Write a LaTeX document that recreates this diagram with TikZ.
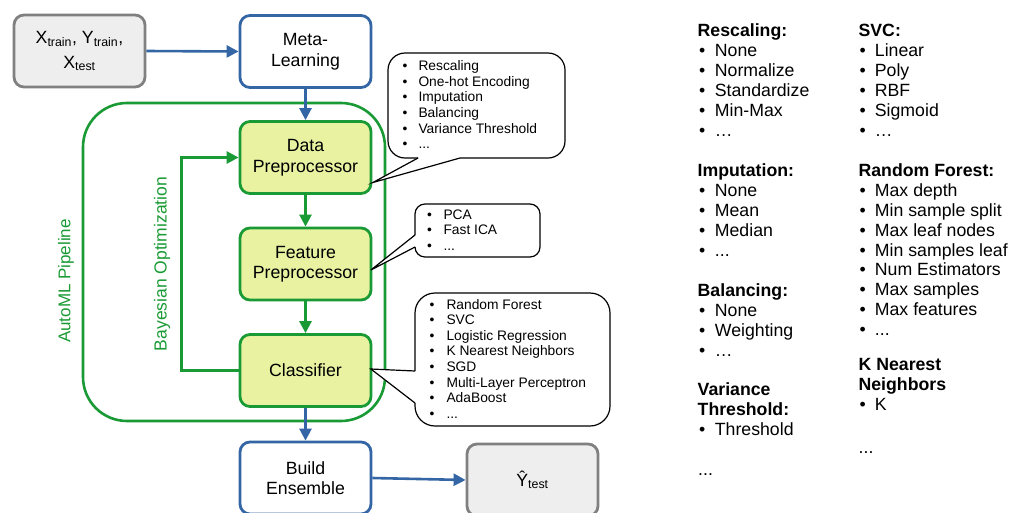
\documentclass[tikz,border=0pt]{standalone}
\usepackage{fontspec}
\setmainfont{Liberation Sans}
\usetikzlibrary{arrows.meta,calc}
\definecolor{cblue}{HTML}{3465A4}
\definecolor{cgreen}{HTML}{1A9A34}
\definecolor{cfill}{HTML}{E8F2A1}
\definecolor{cgrayb}{HTML}{808080}
\definecolor{cgrayf}{HTML}{EEEEEE}
\newcommand\mtxt{\fontsize{17.7}{20.5}\selectfont}
\newcommand\ctxt{\fontsize{13.8}{15.6}\selectfont}
\newcommand\tdots{.\kern0pt.\kern0pt.}
\newcommand\tell{…}
\begin{document}
\begin{tikzpicture}[x=1pt,y=-1pt,
  box/.style={draw, rounded corners=10pt, line width=2.8pt, minimum width=131pt, minimum height=72pt, align=center, font=\mtxt, inner sep=0pt, text=black},
  bluebox/.style={box, draw=cblue, fill=white},
  greenbox/.style={box, draw=cgreen, fill=cfill},
  graybox/.style={box, draw=cgrayb, fill=cgrayf},
  barrow/.style={cblue, line width=2.6pt, -{Triangle[length=12pt,width=12pt]}},
  garrow/.style={cgreen, line width=2.6pt, -{Triangle[length=12pt,width=12pt]}},
  callout/.style={black, line width=1.2pt},
  ctext/.style={anchor=base west, inner sep=0pt, font=\ctxt, text=black},
  ltext/.style={anchor=base west, inner sep=0pt, font=\fontsize{17.7}{20}\selectfont, text=black},
  lhead/.style={ltext, font=\fontsize{17.7}{20}\selectfont\bfseries},
]
\useasboundingbox (0,0) rectangle (1019,512);
\clip (0,0) rectangle (1019,512);

% AutoML pipeline frame
\node[draw=cgreen, line width=2.6pt, rounded corners=44pt, minimum width=302pt, minimum height=318pt, inner sep=0pt] (auto) at (234,262) {};
\node[rotate=90, text=cgreen, font=\fontsize{17}{20}\selectfont] (autolab) at (66,281) {AutoML Pipeline};
\node[rotate=90, text=cgreen, font=\fontsize{17.5}{20}\selectfont] (bolab) at (162,264) {Bayesian Optimization};

% main nodes
\node[graybox, font=\fontsize{17.7}{25}\selectfont] (in) at (79.5,51) {X\textsubscript{train}, Y\textsubscript{train},\\X\textsubscript{test}};
\node[bluebox] (ml) at (305.5,51.5) {Meta-\\Learning};
\node[greenbox] (dp) at (305.5,157.5) {Data\\Preprocessor};
\node[greenbox] (fp) at (305.5,264) {Feature\\Preprocessor};
\node[greenbox] (cl) at (305.5,370.5) {Classifier};
\node[bluebox] (be) at (305.5,478) {Build\\Ensemble};
\node[graybox] (yt) at (532.5,480) {Ŷ\textsubscript{test}};

% connectors
\draw[barrow] (in.east) -- (ml.west);
\draw[barrow] (ml.south) -- (dp.north);
\draw[garrow] (dp.south) -- (fp.north);
\draw[garrow] (fp.south) -- (cl.north);
\draw[barrow] (cl.south) -- (be.north);
\draw[barrow] (be.east) -- (yt.west);
\draw[garrow] (cl.west) -- ++(-57,0) |- (dp.west);

% callout 1
\coordinate (t1) at ($(dp.east)+(0.5,25)$);
\fill[white, rounded corners=17pt] (388,53) rectangle (565,158);
\fill[white] (418,157) -- (t1) -- (460,157) -- cycle;
\draw[callout, rounded corners=17pt] (418,158) -- (388,158) -- (388,53) -- (565,53) -- (565,158) -- (460,158);
\draw[callout] (460,158) -- (t1) -- (418,158);
\foreach \y/\s [count=\i] in {70.7/Rescaling, 86.3/One-hot Encoding, 101.9/Imputation, 117.5/Balancing, 133.1/Variance Threshold, 148.7/\tdots} {
  \node[ctext] (ca\i) at (402.5,\y) {•};
  \node[ctext] (cat\i) at (418.3,\y) {\s};
}

% callout 2
\coordinate (t2) at ($(fp.east)+(-1.5,6)$);
\fill[white, rounded corners=10pt] (415,204) rectangle (540,257);
\fill[white] (416,235) -- (t2) -- (416,247) -- cycle;
\draw[callout, rounded corners=10pt] (415,235) -- (415,204) -- (540,204) -- (540,257) -- (415,257) -- (415,247);
\draw[callout] (415,247) -- (t2) -- (415,235);
\foreach \y/\s [count=\i] in {219/PCA, 234.6/Fast ICA, 250.2/\tdots} {
  \node[ctext] (cb\i) at (427,\y) {•};
  \node[ctext] (cbt\i) at (443.3,\y) {\s};
}

% callout 3
\coordinate (t3) at ($(cl.east)+(-1.5,-1.5)$);
\fill[white, rounded corners=20pt] (415,293) rectangle (610,426);
\fill[white] (416,371) -- (t3) -- (416,403) -- cycle;
\draw[callout, rounded corners=20pt] (415,371) -- (415,293) -- (610,293) -- (610,426) -- (415,426) -- (415,403);
\draw[callout] (415,403) -- (t3) -- (415,371);
\foreach \y/\s [count=\i] in {309/Random Forest, 324.6/SVC, 340.2/Logistic Regression, 355.8/K Nearest Neighbors, 371.4/SGD, 387/Multi-Layer Perceptron, 402.6/AdaBoost, 418.2/\tdots} {
  \node[ctext] (cc\i) at (429.5,\y) {•};
  \node[ctext] (cct\i) at (446.3,\y) {\s};
}

% right column 1
\foreach \y/\s [count=\i] in {36/Rescaling:, 176/Imputation:, 296/Balancing:, 395/Variance, 415/Threshold:} {
  \node[lhead] (h1\i) at (697.5,\y) {\s};
}
\foreach \y/\s [count=\i] in {56/None, 76/Normalize, 96/Standardize, 116/Min-Max, 136/\tell, 196/None, 216/Mean, 236/Median, 256/\tdots, 316/None, 336/Weighting, 356/\tell, 435/Threshold} {
  \node[ltext] (b1\i) at (699,\y) {•};
  \node[ltext] (l1\i) at (714.7,\y) {\s};
}
\node[ltext] (e1) at (698,475) {\tdots};

% right column 2
\foreach \y/\s [count=\i] in {36/SVC:, 176/Random Forest:, 370/K Nearest, 390/Neighbors} {
  \node[lhead] (h2\i) at (858.4,\y) {\s};
}
\foreach \y/\s [count=\i] in {56/Linear, 76/Poly, 96/RBF, 116/Sigmoid, 136/\tell, 196/Max depth, 216/Min sample split, 236/Max leaf nodes, 256/Min samples leaf, 275/Num Estimators, 295/Max samples, 315/Max features, 335/\tdots, 410/K} {
  \node[ltext] (b2\i) at (859.5,\y) {•};
  \node[ltext] (l2\i) at (874.7,\y) {\s};
}
\node[ltext] (e2) at (858.5,453) {\tdots};
\end{tikzpicture}
\end{document}
